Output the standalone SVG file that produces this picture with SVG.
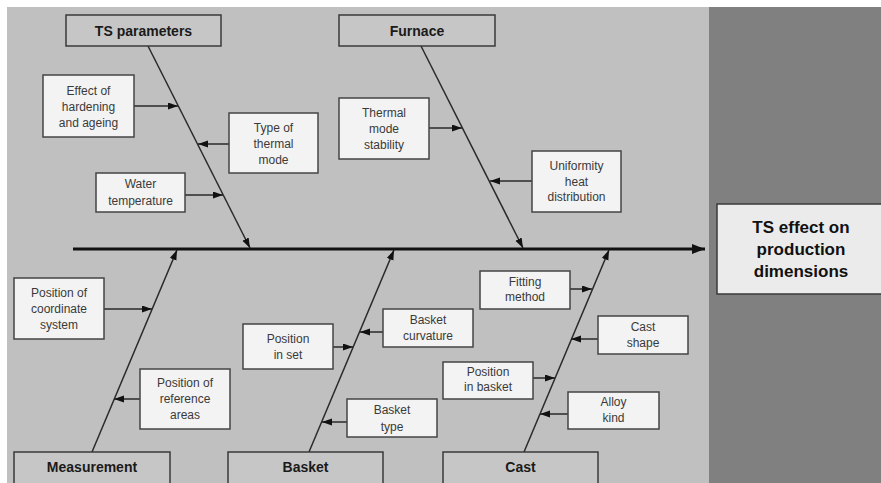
<svg xmlns="http://www.w3.org/2000/svg" width="881" height="483" viewBox="0 0 881 483">
<defs>
<marker id="ah" markerUnits="userSpaceOnUse" markerWidth="11" markerHeight="8" refX="10" refY="3.5" orient="auto">
<path d="M0,0 L10,3.5 L0,7 z" fill="#111"/>
</marker>
<marker id="ahBig" markerUnits="userSpaceOnUse" markerWidth="14" markerHeight="11" refX="13" refY="5" orient="auto">
<path d="M0,0 L13,5 L0,10 z" fill="#111"/>
</marker>
<style>
.cat rect{fill:#c6c6c6;stroke:#3a3a3a;stroke-width:1.5}
.cat text{font-family:"Liberation Sans",Arial,sans-serif;font-weight:bold;font-size:14px;fill:#1a1a1a;text-anchor:middle}
.sub rect{fill:#f3f3f3;stroke:#444;stroke-width:1.5}
.sub text{font-family:"Liberation Sans",Arial,sans-serif;font-size:12px;fill:#3a3a3a;text-anchor:middle}
.bone{stroke:#2a2a2a;stroke-width:1.5;fill:none;marker-end:url(#ah)}
.rib{stroke:#2a2a2a;stroke-width:1.5;fill:none;marker-end:url(#ah)}
</style>
</defs>
<rect x="0" y="0" width="881" height="483" fill="#ffffff"/>
<rect x="7" y="7" width="702" height="476" fill="#c0c0c0"/>
<rect x="709" y="7" width="172" height="476" fill="#808080"/>

<g id="connectors">
<line x1="73" y1="249" x2="705" y2="249" stroke="#111" stroke-width="3" marker-end="url(#ahBig)"/>
<line class="bone" x1="148" y1="46" x2="250" y2="248"/>
<line class="bone" x1="421" y1="46" x2="523" y2="248"/>
<line class="bone" x1="92" y1="452" x2="177" y2="250"/>
<line class="bone" x1="309" y1="452" x2="394" y2="250"/>
<line class="bone" x1="524" y1="452" x2="609" y2="250"/>
<line class="rib" x1="134" y1="106" x2="178" y2="106"/>
<line class="rib" x1="229" y1="144" x2="198" y2="144"/>
<line class="rib" x1="185" y1="195" x2="223" y2="195"/>
<line class="rib" x1="429" y1="128" x2="462" y2="128"/>
<line class="rib" x1="532" y1="181" x2="490" y2="181"/>
<line class="rib" x1="104" y1="309" x2="152" y2="309"/>
<line class="rib" x1="140" y1="399" x2="114" y2="399"/>
<line class="rib" x1="333" y1="347" x2="353" y2="347"/>
<line class="rib" x1="383" y1="332" x2="360" y2="332"/>
<line class="rib" x1="347" y1="422" x2="322" y2="422"/>
<line class="rib" x1="570" y1="289" x2="592" y2="289"/>
<line class="rib" x1="598" y1="339" x2="571" y2="339"/>
<line class="rib" x1="533" y1="378" x2="555" y2="378"/>
<line class="rib" x1="568" y1="414" x2="540" y2="414"/>
</g>

<g id="ts-parameters" class="cat"><rect x="66" y="15" width="155" height="31"/><text x="143.5" y="36">TS parameters</text></g>
<g id="furnace" class="cat"><rect x="339" y="15" width="156" height="31"/><text x="417" y="36">Furnace</text></g>
<g id="measurement" class="cat"><rect x="14" y="452" width="156" height="33"/><text x="92" y="472">Measurement</text></g>
<g id="basket" class="cat"><rect x="228" y="452" width="155" height="33"/><text x="305.5" y="472">Basket</text></g>
<g id="cast" class="cat"><rect x="443" y="452" width="155" height="33"/><text x="520.5" y="472">Cast</text></g>

<g id="effect-hardening" class="sub"><rect x="43" y="75" width="91" height="62"/><text x="88.5" y="95">Effect of</text><text x="88.5" y="111">hardening</text><text x="88.5" y="127">and ageing</text></g>
<g id="type-thermal-mode" class="sub"><rect x="229" y="113" width="89" height="60"/><text x="273.5" y="132">Type of</text><text x="273.5" y="148">thermal</text><text x="273.5" y="164">mode</text></g>
<g id="water-temperature" class="sub"><rect x="96" y="173" width="89" height="39"/><text x="140.5" y="188">Water</text><text x="140.5" y="205">temperature</text></g>
<g id="thermal-mode-stability" class="sub"><rect x="339" y="98" width="90" height="61"/><text x="384" y="117">Thermal</text><text x="384" y="133">mode</text><text x="384" y="149">stability</text></g>
<g id="uniformity" class="sub"><rect x="532" y="151" width="89" height="61"/><text x="576.5" y="170">Uniformity</text><text x="576.5" y="186">heat</text><text x="576.5" y="201">distribution</text></g>
<g id="position-coordinate" class="sub"><rect x="14" y="278" width="90" height="61"/><text x="59" y="297">Position of</text><text x="59" y="313">coordinate</text><text x="59" y="329">system</text></g>
<g id="position-reference" class="sub"><rect x="140" y="369" width="90" height="60"/><text x="185" y="387">Position of</text><text x="185" y="403">reference</text><text x="185" y="419">areas</text></g>
<g id="position-in-set" class="sub"><rect x="243" y="324" width="90" height="45"/><text x="288" y="343">Position</text><text x="288" y="359">in set</text></g>
<g id="basket-curvature" class="sub"><rect x="383" y="309" width="90" height="38"/><text x="428" y="324">Basket</text><text x="428" y="340">curvature</text></g>
<g id="basket-type" class="sub"><rect x="347" y="399" width="90" height="38"/><text x="392" y="414">Basket</text><text x="392" y="431">type</text></g>
<g id="fitting-method" class="sub"><rect x="480" y="271" width="90" height="38"/><text x="525" y="286">Fitting</text><text x="525" y="301">method</text></g>
<g id="cast-shape" class="sub"><rect x="598" y="316" width="90" height="38"/><text x="643" y="331">Cast</text><text x="643" y="347">shape</text></g>
<g id="position-in-basket" class="sub"><rect x="443" y="362" width="90" height="37"/><text x="488" y="376">Position</text><text x="488" y="391">in basket</text></g>
<g id="alloy-kind" class="sub"><rect x="568" y="392" width="91" height="37"/><text x="613.5" y="406">Alloy</text><text x="613.5" y="422">kind</text></g>

<g id="ts-effect"><rect x="717" y="204" width="170" height="90" fill="#ebebeb" stroke="#3a3a3a" stroke-width="1.5"/>
<text font-family="&quot;Liberation Sans&quot;,Arial,sans-serif" font-weight="bold" font-size="17" fill="#111" text-anchor="middle"><tspan x="801" y="233">TS effect on</tspan><tspan x="801" y="255">production</tspan><tspan x="801" y="277">dimensions</tspan></text></g>
</svg>
